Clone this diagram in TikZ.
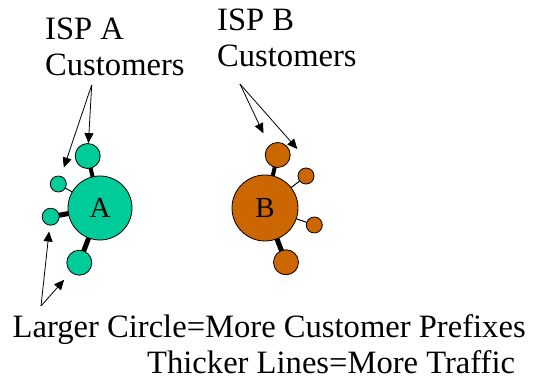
\documentclass[tikz,border=0pt]{standalone}
\usepackage{fontspec}
\setmainfont{Liberation Serif}
\usetikzlibrary{arrows.meta,backgrounds}
\definecolor{IspGreen}{HTML}{00CC99}
\definecolor{IspOrange}{HTML}{CC6600}

\begin{document}
\begin{tikzpicture}[x=1pt,y=-1pt,>={Triangle[length=10pt,width=9pt]},
  font=\fontsize{32.6}{38}\selectfont,
  txt/.style={anchor=base west,inner sep=0pt},
  isp/.style={circle,draw,line width=0.8pt,inner sep=0pt,font=\fontsize{29}{34}\selectfont},
  ispA/.style={isp,fill=IspGreen},
  ispB/.style={isp,fill=IspOrange}]
  \useasboundingbox (0,0) rectangle (538,379);

  % the two providers and their customers
  \node[ispA,minimum size=64pt] (A) at (100,208) {A};
  \node[ispB,minimum size=66pt] (B) at (265,208) {B};
  \foreach \name/\x/\y/\d in {a1/87.7/156/25,a2/58.3/184/16,a3/50.7/216.7/17,a4/79.3/262.7/25}
    \node[ispA,minimum size=\d pt] (\name) at (\x,\y) {};
  \foreach \name/\x/\y/\d in {b1/277.7/155/25,b2/306/176/16,b3/314.3/225/16,b4/286/262.3/25}
    \node[ispB,minimum size=\d pt] (\name) at (\x,\y) {};

  % links, thickness = traffic
  \begin{scope}[on background layer]
    \foreach \from/\to/\w in {A/a1/4,A/a2/1,A/a3/5,A/a4/5,B/b1/4,B/b2/1,B/b3/1,B/b4/5}
      \draw[line width=\w pt] (\from.center) -- (\to.center);
  \end{scope}

  % texts
  \node[txt] (ispAtext) at (45,40) {ISP A};
  \node[txt] (custA) at (45,76) {Customers};
  \node[txt] (ispBtext) at (217,31) {ISP B};
  \node[txt] (custB) at (217,67) {Customers};
  \node[txt] (legendA) at (12.5,337) {Larger Circle=More Customer Prefixes};
  \node[txt] (legendB) at (147,373) {Thicker Lines=More Traffic};

  % arrows to the customers
  \coordinate (tailA) at (91.7,85);
  \coordinate (tailL) at (41,306);
  \coordinate (tailB) at (240,84);
  \coordinate (tipB1) at (263.3,133.3);
  \coordinate (tipB2) at (297.3,149);
  \draw[->,line width=0.8pt] (tailA) -- (a1);
  \draw[->,line width=0.8pt,shorten >=9pt] (tailA) -- (a2);
  \draw[->,line width=0.8pt,shorten >=6pt] (tailL) -- (a3);
  \draw[->,line width=0.8pt,shorten >=10pt] (tailL) -- (a4);
  \draw[->,line width=0.8pt] (tailB) -- (tipB1);
  \draw[->,line width=0.8pt] (tailB) -- (tipB2);
\end{tikzpicture}
\end{document}
